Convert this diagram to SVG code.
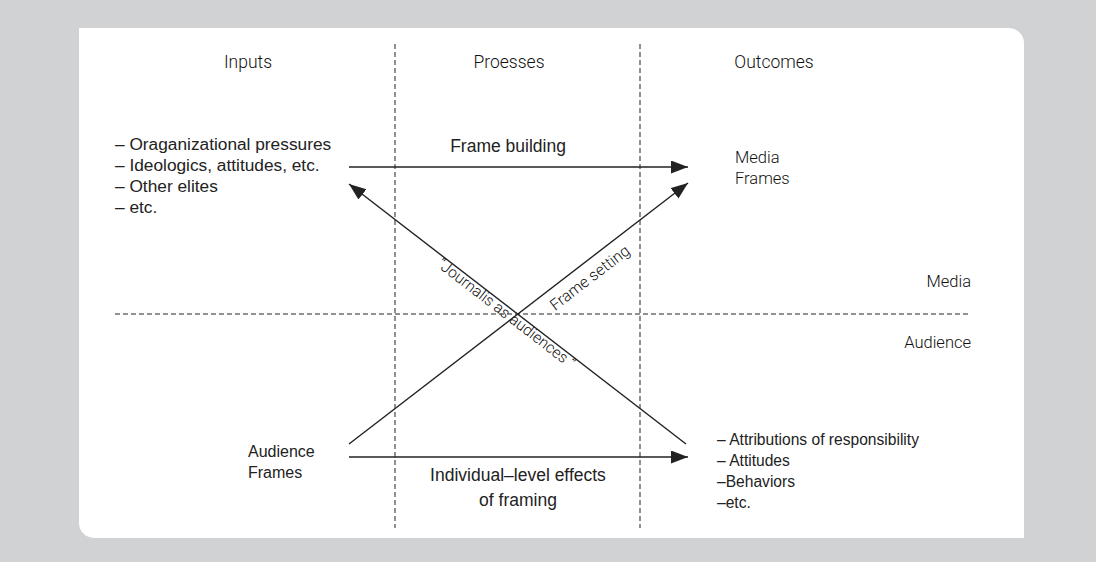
<svg xmlns="http://www.w3.org/2000/svg" width="1096" height="562" viewBox="0 0 1096 562">
  <style>
    .thin { font-family: Roboto, "Liberation Sans", sans-serif; font-weight: 300; fill: #111; }
    .body { font-family: "Liberation Sans", Arial, sans-serif; fill: #222; }
    .hdr { font-size: 17.5px; }
    .lst { font-size: 16px; }
    .big { font-size: 17.5px; }
    .lbl { font-size: 16.5px; }
    .dash { stroke: #222; stroke-width: 1; stroke-dasharray: 5 3; fill: none; }
    .arr { stroke: #222; stroke-width: 1.4; fill: none; marker-end: url(#head); }
  </style>
  <defs>
    <marker id="head" markerUnits="userSpaceOnUse" markerWidth="18" markerHeight="14" refX="17" refY="6.5" orient="auto">
      <path d="M0,0 L17,6.5 L0,13 Z" fill="#222"/>
    </marker>
  </defs>

  <!-- backdrop and panel -->
  <rect x="0" y="0" width="1096" height="562" fill="#d1d2d4"/>
  <path d="M79,28 H1009 A15,15 0 0 1 1024,43 V538 H94 A15,15 0 0 1 79,523 Z" fill="#ffffff"/>

  <!-- column and row dividers -->
  <g id="dividers">
    <line class="dash" x1="395" y1="44" x2="395" y2="528"/>
    <line class="dash" x1="640" y1="44" x2="640" y2="528"/>
    <line class="dash" x1="115" y1="314" x2="971" y2="314"/>
  </g>

  <!-- column headings -->
  <g id="headings">
    <text class="thin hdr" x="248" y="68" text-anchor="middle">Inputs</text>
    <text class="thin hdr" x="509" y="68" text-anchor="middle">Proesses</text>
    <text class="thin hdr" x="774" y="68" text-anchor="middle">Outcomes</text>
  </g>

  <!-- row labels -->
  <g id="row-media">
    <text class="thin lbl" x="971" y="287" text-anchor="end">Media</text>
  </g>
  <g id="row-audience">
    <text class="thin lbl" x="971" y="348" text-anchor="end">Audience</text>
  </g>

  <!-- nodes -->
  <g id="inputs-media">
    <text class="body" font-size="17.3" x="115" y="150">– Oraganizational pressures</text>
    <text class="body" font-size="17.3" x="115" y="171">– Ideologics, attitudes, etc.</text>
    <text class="body" font-size="17.3" x="115" y="192">– Other elites</text>
    <text class="body" font-size="17.3" x="115" y="213">– etc.</text>
  </g>
  <g id="media-frames">
    <text class="thin lbl" x="735" y="163">Media</text>
    <text class="thin lbl" x="735" y="184">Frames</text>
  </g>
  <g id="audience-frames">
    <text class="body lst" x="248" y="457">Audience</text>
    <text class="body lst" x="248" y="478">Frames</text>
  </g>
  <g id="outcomes-audience">
    <text class="body" font-size="15.6" x="717" y="445">– Attributions of responsibility</text>
    <text class="body" font-size="15.6" x="717" y="466">– Attitudes</text>
    <text class="body" font-size="15.6" x="717" y="487">–Behaviors</text>
    <text class="body" font-size="15.6" x="717" y="508">–etc.</text>
  </g>

  <!-- connectors -->
  <g id="connectors">
    <line class="arr" x1="349" y1="167" x2="688" y2="167"/>
    <line class="arr" x1="349" y1="457" x2="688" y2="457"/>
    <line class="arr" x1="349" y1="444" x2="688" y2="183"/>
    <line class="arr" x1="686" y1="444" x2="349" y2="184"/>
    <text class="body big" x="508" y="152" text-anchor="middle">Frame building</text>
    <text class="body big" x="518" y="481" text-anchor="middle">Individual–level effects</text>
    <text class="body big" x="518" y="506" text-anchor="middle">of framing</text>
    <text class="thin" font-size="15.8" text-anchor="middle" transform="translate(593,282) rotate(-37.6)">Frame setting</text>
    <text class="thin" font-size="15.5" text-anchor="middle" transform="translate(503,317.5) rotate(37.6)">“Journalis as audiences ”</text>
  </g>
</svg>
